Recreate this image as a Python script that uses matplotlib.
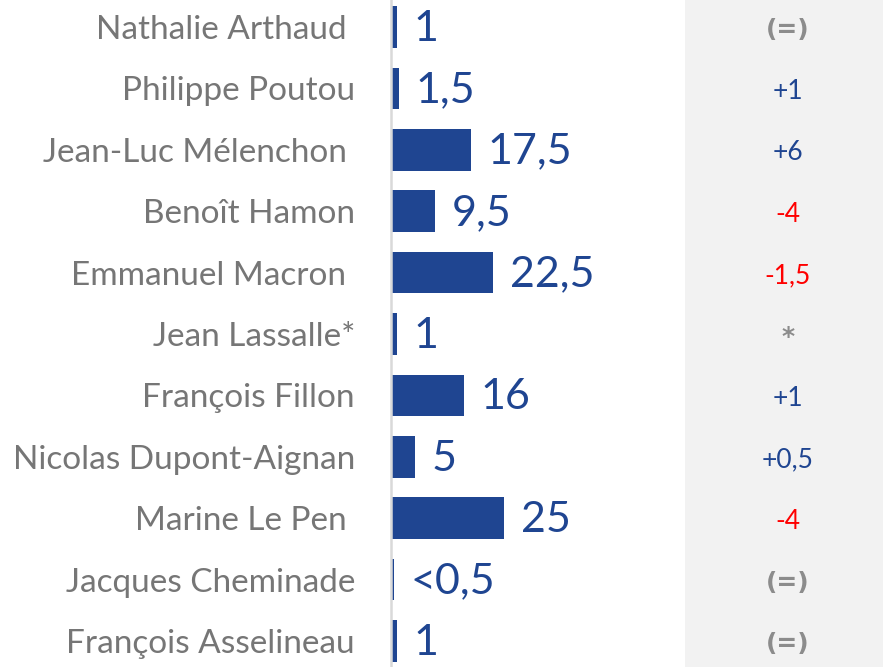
import matplotlib
matplotlib.use('Agg')
import matplotlib.pyplot as plt

plt.rcParams['font.family'] = ['Lato', 'DejaVu Sans']

# data, top to bottom
candidates = ['Nathalie Arthaud ', 'Philippe Poutou', 'Jean-Luc Mélenchon ', 'Benoît Hamon',
              'Emmanuel Macron ', 'Jean Lassalle*', 'François Fillon', 'Nicolas Dupont-Aignan',
              'Marine Le Pen ', 'Jacques Cheminade', 'François Asselineau']
scores = [1, 1.5, 17.5, 9.5, 22.5, 1, 16, 5, 25, 0.35, 1]
score_labels = ['1', '1,5', '17,5', '9,5', '22,5', '1', '16', '5', '25', '<0,5', '1']
changes = ['(=)', '+1', '+6', '-4', '-1,5', '*', '+1', '+0,5', '-4', '(=)', '(=)']

blue = '#1f4591'
red = '#ff0000'
grey_txt = '#8c8c8c'

W, H = 883, 667
fig = plt.figure(figsize=(W / 100, H / 100), dpi=100)

# right-hand grey column with the changes
panel_x0 = 685
axr = fig.add_axes([panel_x0 / W, 0, 1 - panel_x0 / W, 1])
axr.set_facecolor('#f2f2f2')
for s in axr.spines.values():
    s.set_visible(False)
axr.set_xticks([])
axr.set_yticks([])

# main bar axes
x0 = 391
ax = fig.add_axes([x0 / W, 0, (panel_x0 - x0) / W, 1])
px_per_unit = 4.47
ax.set_xlim(0, (panel_x0 - x0) / px_per_unit)
row_px = 61.4
top_c = 27
ylim = (10 + (H - 641) / row_px, -top_c / row_px)
ax.set_ylim(*ylim)
axr.set_ylim(*ylim)
axr.set_xlim(0, 1)

ypos = list(range(len(candidates)))
base = 0.3  # small gap between the axis line and the bars
ax.barh(ypos, scores, height=0.68, color=blue, left=base)

for s in ['top', 'right', 'bottom']:
    ax.spines[s].set_visible(False)
ax.spines['left'].set_color('#d9d9d9')
ax.spines['left'].set_linewidth(1.8)
ax.set_xticks([])
ax.set_yticks(ypos)
ax.set_yticklabels(candidates, fontsize=24, color='#767676')
ax.tick_params(axis='y', length=0, pad=26)
ax.patch.set_alpha(0)

for y, v, lab in zip(ypos, scores, score_labels):
    ax.annotate(lab, xy=(v + base, y + 0.03), xytext=(12, 0), textcoords='offset points',
                ha='left', va='center', fontsize=31, color=blue)

for y, c in zip(ypos, changes):
    if c in ('(=)', '*'):
        axr.text(0.52, y + 0.05, c, ha='center', va='center', fontsize=18, color=grey_txt,
                 fontweight='bold', family=['DejaVu Sans'])
    else:
        col = red if c.startswith('-') else blue
        axr.text(0.52, y + 0.05, c, ha='center', va='center', fontsize=19, color=col)

fig.savefig('out.png', dpi=100)
